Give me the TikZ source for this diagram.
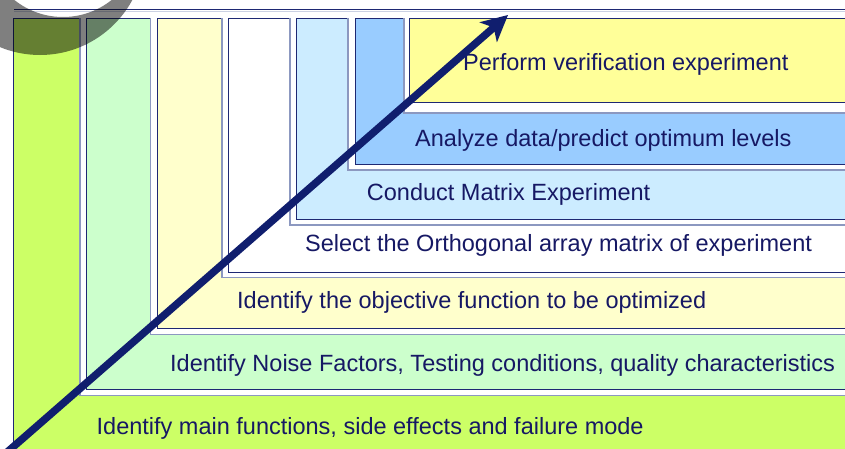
\documentclass[tikz,border=0pt]{standalone}
\usepackage{fontspec}
\setmainfont{Liberation Sans}
\usetikzlibrary{arrows.meta}

\definecolor{cLime}{HTML}{CCFF66}
\definecolor{cMint}{HTML}{CCFFCC}
\definecolor{cCream}{HTML}{FFFFCC}
\definecolor{cSky}{HTML}{CCECFF}
\definecolor{cBlue}{HTML}{99CCFF}
\definecolor{cYellow}{HTML}{FFFF99}
\definecolor{edgeNavy}{RGB}{30,40,115}
\definecolor{matGray}{RGB}{140,152,192}
\definecolor{textNavy}{RGB}{22,24,100}
\definecolor{arrowNavy}{RGB}{16,30,110}

\begin{document}
\begin{tikzpicture}[x=1pt,y=-1pt,
  boxedge/.style={draw=edgeNavy,line width=1pt},
  matedge/.style={draw=matGray,line width=1.6pt},
  steptext/.style={anchor=base west,inner sep=0pt,text=textNavy,
    font=\fontsize{23.5}{28}\selectfont}]
\useasboundingbox (0,0) rectangle (845,448);
\clip (0,0) rectangle (845,448);
\fill[white] (0,0) rectangle (845,448);

% frame line along the top
\draw[edgeNavy,line width=0.9pt] (14,9.3) -- (870,9.3);
\draw[matGray!45,line width=0.6pt] (14,11.3) -- (870,11.3);

% outermost step
\filldraw[fill=cLime,boxedge] (13,18.5) rectangle (870,470);

% nested steps: white mat, then coloured panel
% #1 mat left, #2 mat bottom, #3 panel left, #4 panel bottom, #5 colour
\foreach \ml/\mb/\pl/\pb/\col in {
    80/395.5/86/389.5/cMint,
    150.5/334.5/157/328.5/cCream,
    222/277.5/228/272/white,
    290/225/296/219.5/cSky,
    348/170/355/164.5/cBlue,
    404/113/409/102.5/cYellow}{
  \fill[white] (\ml,17.5) rectangle (870,\mb);
  \draw[matedge] (\ml,18) -- (\ml,\mb) -- (870,\mb);
  \filldraw[fill=\col,boxedge] (\pl,18.5) rectangle (870,\pb);
}

% step labels
\node[steptext] (s7) at (463,70) {Perform verification experiment};
\node[steptext] (s6) at (415,146.7) {Analyze data/predict optimum levels};
\node[steptext] (s5) at (366.7,200) {Conduct Matrix Experiment};
\node[steptext] (s4) at (305,251.7) {Select the Orthogonal array matrix of experiment};
\node[steptext] (s3) at (237,308.3) {Identify the objective function to be optimized};
\node[steptext] (s2) at (170,371) {Identify Noise Factors, Testing conditions, quality characteristics};
\node[steptext] (s1) at (96.5,434.5) {Identify main functions, side effects and failure mode};

% rising arrow
\coordinate (arrowTail) at (5,454);
\coordinate (arrowTip) at (508,15);
\draw[arrowNavy,line width=7.5pt,
  -{Stealth[length=26pt,width=26pt,inset=7pt]}] (arrowTail) -- (arrowTip);

% translucent ring in the corner
\fill[black,fill opacity=0.5,even odd rule]
  (40,-50) circle[radius=105] (63,-61) circle[radius=78];
\end{tikzpicture}
\end{document}
